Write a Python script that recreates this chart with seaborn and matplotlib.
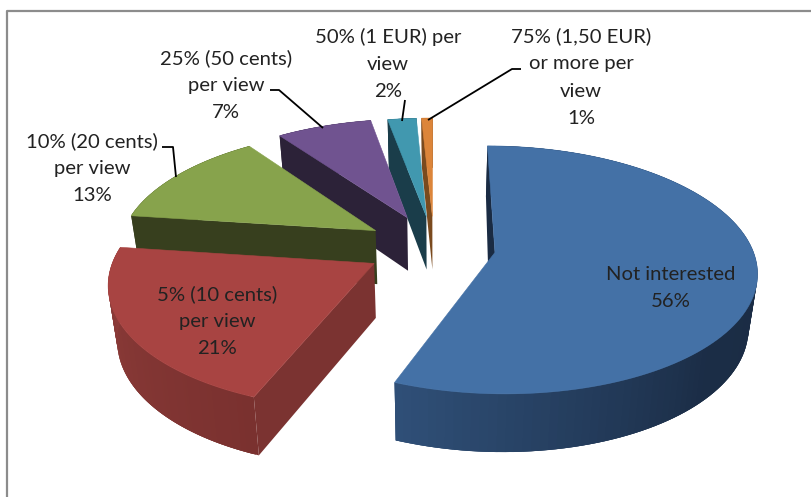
import numpy as np
import matplotlib
matplotlib.use("Agg")
import matplotlib.pyplot as plt
from matplotlib.patches import Polygon, Rectangle
import seaborn as sns

labels = ["Not interested\n56%", "5% (10 cents)\nper view\n21%", "10% (20 cents)\nper view\n13%",
          "25% (50 cents)\nper view\n7%", "50% (1 EUR) per\nview\n2%", "75% (1,50 EUR)\nor more per\nview\n1%"]
# shares (the labels are rounded)
values = [56.0, 21.1, 13.0, 7.0, 2.1, 0.8]
explode = [0.24, 0.265, 0.27, 0.275, 0.265, 0.265]
top_colors = ["#4471a6", "#a84442", "#87a34c", "#705390", "#4198af", "#dc853a"]
wall_colors = [["#1a2b43", "#1a2b43", "#1b2d46", "#2f4f77"], ["#7a312f", "#8f3d3a"], ["#373f1e", "#373f1e"],
               ["#2c2238", "#2c2238"], ["#1a3d4a", "#1a3d4a"], ["#7a4a1e", "#7a4a1e"]]
cut_colors = ["#1a2b43", "#7b3331", "#373f1e", "#2c2238", "#1a3d4a", "#7a4a1e"]

label_x = [671, 217, 92, 226, 388, 581]
label_y = [288, 321, 168, 85, 64, 77]

leaders = [[(162, 147), (173, 147), (176, 177)],
           [(270, 90), (279, 90), (323, 128)],
           [(405, 100), (402, 121)],
           [(521, 69), (512, 69), (428, 120)]]

sns.set_theme(style="white")
plt.rcParams["font.family"] = ["Lato", "DejaVu Sans"]

cx, cy, a, b, k, depth = 434, 247, 257, 120, 0.14, 54


def project(X, Y):
    w = 1 + k * Y
    return cx + a * X / w, cy - b * Y / w, depth / (1 + 0.07 * Y)


def floor_x(x):
    # the lower rim sits a little closer to the middle
    return x - (x - cx) * 0.028


fig, ax = plt.subplots(figsize=(8.12, 4.97), dpi=100)
ax.set_position([0, 0, 1, 1])
ax.set_xlim(0, 812)
ax.set_ylim(497, 0)
ax.axis("off")

shares = np.array(values) / sum(values)
ends = np.cumsum(shares) * 2 * np.pi
starts = ends - shares * 2 * np.pi

# back slices first so the front ones cover them
for i in [5, 4, 3, 2, 1, 0]:
    mid = (starts[i] + ends[i]) / 2
    ox, oy = explode[i] * np.sin(mid), explode[i] * np.cos(mid)
    angles = np.linspace(starts[i], ends[i], 120)
    xs, ys, ds = project(ox + np.sin(angles), oy + np.cos(angles))
    px, py, pd_ = project(ox, oy)

    # outer wall as overlapping strips for the shading
    shades = sns.blend_palette(wall_colors[i], len(angles) - 1)
    for j in range(len(angles) - 1):
        e = min(j + 3, len(angles) - 1)
        quad = [(xs[j], ys[j]), (xs[e], ys[e]),
                (floor_x(xs[e]), ys[e] + ds[e]), (floor_x(xs[j]), ys[j] + ds[j])]
        ax.add_patch(Polygon(quad, facecolor=shades[j], lw=0))

    # cut face at the start of the slice
    shift = 4 if i == 0 else 0
    ax.add_patch(Polygon([(xs[0], ys[0]), (px, py), (floor_x(px) - shift, py + pd_),
                          (floor_x(xs[0]), ys[0] + ds[0])], facecolor=cut_colors[i], lw=0))
    ax.add_patch(Polygon(np.column_stack([np.r_[px, xs], np.r_[py, ys]]),
                         facecolor=top_colors[i], edgecolor=top_colors[i], lw=0.4))

for pts in leaders:
    ax.plot(*zip(*pts), color="black", lw=1.3, solid_capstyle="butt")

for i, lab in enumerate(labels):
    t = ax.text(label_x[i], label_y[i], lab, ha="center", va="center", fontsize=14.6,
                color="#222222", linespacing=1.73)
    if i == 2:
        # the 13% label is cut off just above the green slice in the source
        t.set_clip_path(Rectangle((0, 0), 812, 201, transform=ax.transData))
        t.set_clip_on(True)

# frame of the embedded chart
ax.plot([7, 7, 812], [497, 11, 11], color="#8c8c8c", lw=1.6, clip_on=False)

fig.savefig("out.png", dpi=100)
